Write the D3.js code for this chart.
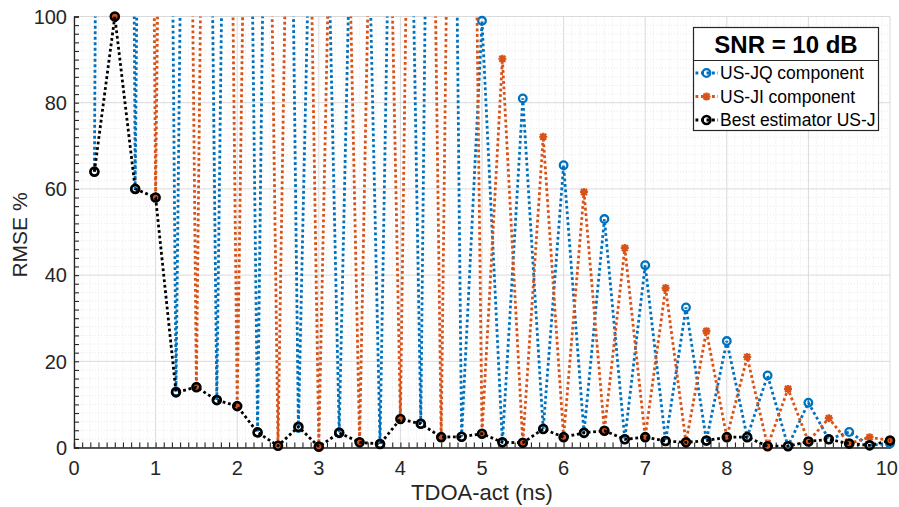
<!DOCTYPE html>
<html>
<head>
<meta charset="utf-8">
<script src="https://cdn.jsdelivr.net/npm/d3@7"></script>
<style>
  body { margin: 0; background: #fff; }
  svg { font-family: Arial, "Liberation Sans", Helvetica, sans-serif; }
</style>
</head>
<body>
<div id="chart"></div>
<script>
// TDOA-act (ns)
var tdoa = [0.25, 0.5, 0.75, 1, 1.25, 1.5, 1.75, 2, 2.25, 2.5, 2.75, 3, 3.25, 3.5, 3.75, 4,
  4.25, 4.5, 4.75, 5, 5.25, 5.5, 5.75, 6, 6.25, 6.5, 6.75, 7, 7.25, 7.5, 7.75, 8,
  8.25, 8.5, 8.75, 9, 9.25, 9.5, 9.75, 10];

// RMSE % (values above 100 run off the top of the axes)
var usJQ = [64, 900, 60, 600, 13, 450, 11, 400, 3.5, 400, 4.5, 220, 3.5, 220, 0.8, 280,
  5.5, 460, 2.5, 99, 1.2, 81, 4.3, 65.5, 3.4, 53, 1.9, 42.3, 1.5, 32.5, 1.6, 24.7,
  2.4, 16.7, 0.3, 10.4, 1.9, 3.6, 0.5, 0.9];
var usJI = [1000, 100, 700, 58, 500, 14, 450, 9.5, 350, 0.5, 300, 0.2, 230, 1.2, 250, 6.5,
  360, 2.2, 400, 3.2, 90.2, 1.1, 72.1, 2.4, 59.3, 3.9, 46.3, 2.4, 37, 1.2, 27, 2.4,
  21, 0.3, 13.6, 1.4, 6.8, 0.9, 2.4, 1.6];
var bestUSJ = [64, 100, 60, 58, 12.8, 14, 11, 9.6, 3.5, 0.4, 4.8, 0.2, 3.4, 1.2, 0.8, 6.6,
  5.5, 2.4, 2.5, 3.2, 1.2, 1.1, 4.3, 2.4, 3.4, 3.9, 1.9, 2.4, 1.5, 1.2, 1.6, 2.4,
  2.4, 0.3, 0.3, 1.4, 1.9, 0.9, 0.5, 1.6];

var xTicks = [0, 1, 2, 3, 4, 5, 6, 7, 8, 9, 10];
var yTicks = [0, 20, 40, 60, 80, 100];
var legendTitle = "SNR = 10 dB";
var seriesNames = ["US-JQ component", "US-JI component", "Best estimator US-J"];
var seriesColors = ["#0072BD", "#D95319", "#000000"];

var W = 899, H = 507;
var pLeft = 74, pRight = 890, pTop = 16.5, pBottom = 447.5;
var axisColor = "#262626";

var x = d3.scaleLinear().domain([0, 10]).range([pLeft, pRight]);
var y = d3.scaleLinear().domain([0, 100]).range([pBottom, pTop]);

var svg = d3.select("#chart").append("svg")
  .attr("width", W)
  .attr("height", H);

svg.append("defs").append("clipPath")
  .attr("id", "plot-clip")
  .append("rect")
  .attr("x", pLeft)
  .attr("y", pTop)
  .attr("width", pRight - pLeft)
  .attr("height", pBottom - pTop);

// minor grid
var minorX = d3.range(0, 101).map(function(i) { return i / 10; }).filter(function(v) { return v % 1 !== 0; });
var minorY = d3.range(0, 51).map(function(i) { return i * 2; }).filter(function(v) { return v % 20 !== 0; });

var grid = svg.append("g");
grid.selectAll(".minor-x")
  .data(minorX)
  .enter().append("line")
  .attr("x1", function(d) { return x(d); })
  .attr("x2", function(d) { return x(d); })
  .attr("y1", pTop)
  .attr("y2", pBottom)
  .style("stroke", "#e3e3e3")
  .style("stroke-width", 0.8)
  .style("stroke-dasharray", "1,2");
grid.selectAll(".minor-y")
  .data(minorY)
  .enter().append("line")
  .attr("x1", pLeft)
  .attr("x2", pRight)
  .attr("y1", function(d) { return y(d); })
  .attr("y2", function(d) { return y(d); })
  .style("stroke", "#e3e3e3")
  .style("stroke-width", 0.8)
  .style("stroke-dasharray", "1,2");

// major grid
grid.selectAll(".major-x")
  .data(xTicks)
  .enter().append("line")
  .attr("x1", function(d) { return x(d); })
  .attr("x2", function(d) { return x(d); })
  .attr("y1", pTop)
  .attr("y2", pBottom)
  .style("stroke", "#dadada")
  .style("stroke-width", 1);
grid.selectAll(".major-y")
  .data(yTicks)
  .enter().append("line")
  .attr("x1", pLeft)
  .attr("x2", pRight)
  .attr("y1", function(d) { return y(d); })
  .attr("y2", function(d) { return y(d); })
  .style("stroke", "#dadada")
  .style("stroke-width", 1);

// axes
var xAxis = svg.append("g")
  .attr("transform", "translate(0," + pBottom + ")")
  .call(d3.axisBottom(x).tickValues(minorX.concat(xTicks)).tickSize(-5).tickFormat(""));
var yAxis = svg.append("g")
  .attr("transform", "translate(" + pLeft + ",0)")
  .call(d3.axisLeft(y).tickValues(minorY.concat(yTicks)).tickSize(-5).tickFormat(""));
[xAxis, yAxis].forEach(function(a) {
  a.select(".domain").style("stroke", axisColor).style("stroke-width", 1.3);
  a.selectAll(".tick line").style("stroke", axisColor).style("stroke-width", 1.1);
});

// the last label would run past the window edge, so it is right-aligned there
svg.append("g").selectAll("text")
  .data(xTicks)
  .enter().append("text")
  .attr("x", function(d) { return d === 10 ? W - 1 : x(d); })
  .attr("y", pBottom + 27)
  .attr("text-anchor", function(d) { return d === 10 ? "end" : "middle"; })
  .style("font-size", "20px")
  .style("fill", axisColor)
  .text(function(d) { return d; });

svg.append("g").selectAll("text")
  .data(yTicks)
  .enter().append("text")
  .attr("x", pLeft - 7)
  .attr("y", function(d) { return y(d); })
  .attr("dy", "0.36em")
  .attr("text-anchor", "end")
  .style("font-size", "20px")
  .style("fill", axisColor)
  .text(function(d) { return d; });

svg.append("text")
  .attr("x", (pLeft + pRight) / 2)
  .attr("y", 500)
  .attr("text-anchor", "middle")
  .style("font-size", "22px")
  .style("fill", axisColor)
  .text("TDOA-act (ns)");

svg.append("text")
  .attr("transform", "translate(27," + ((pTop + pBottom) / 2 + 3) + ") rotate(-90)")
  .attr("text-anchor", "middle")
  .style("font-size", "21px")
  .style("fill", axisColor)
  .text("RMSE %");

// series
var line = d3.line()
  .x(function(d) { return x(d[0]); })
  .y(function(d) { return y(d[1]); });

function drawMarker(g, kind, color) {
  if (kind === "star") {
    g.append("path")
      .attr("d", "M-4,0H4M0,-4V4M-3,-3L3,3M-3,3L3,-3")
      .style("stroke", color)
      .style("stroke-width", 2.2)
      .style("fill", "none");
  } else {
    g.append("circle")
      .attr("r", kind === "big" ? 4 : 3.8)
      .style("stroke", color)
      .style("stroke-width", kind === "big" ? 2.6 : 2.3)
      .style("fill", "none");
  }
}

var allSeries = [usJQ, usJI, bestUSJ];
var markerKinds = ["circle", "star", "big"];

allSeries.forEach(function(vals, i) {
  var pts = tdoa.map(function(t, j) { return [t, vals[j]]; });
  svg.append("path")
    .datum(pts)
    .attr("clip-path", "url(#plot-clip)")
    .attr("d", line)
    .style("fill", "none")
    .style("stroke", seriesColors[i])
    .style("stroke-width", 2.8)
    .style("stroke-dasharray", "2.8,2.7");

  svg.append("g").selectAll("g")
    .data(pts.filter(function(p) { return p[1] <= 100; }))
    .enter().append("g")
    .attr("transform", function(d) { return "translate(" + x(d[0]) + "," + y(d[1]) + ")"; })
    .each(function() { drawMarker(d3.select(this), markerKinds[i], seriesColors[i]); });
});

// legend
var lg = svg.append("g");
lg.append("rect")
  .attr("x", 693.5)
  .attr("y", 27.5)
  .attr("width", 185)
  .attr("height", 103)
  .style("fill", "#fff")
  .style("stroke", axisColor)
  .style("stroke-width", 1.2);
lg.append("line")
  .attr("x1", 693.5)
  .attr("x2", 878.5)
  .attr("y1", 60.5)
  .attr("y2", 60.5)
  .style("stroke", axisColor)
  .style("stroke-width", 1);
lg.append("text")
  .attr("x", 786)
  .attr("y", 53)
  .attr("text-anchor", "middle")
  .style("font-size", "24px")
  .style("font-weight", "bold")
  .style("fill", "#000")
  .text(legendTitle);

seriesNames.forEach(function(name, i) {
  var cy = 73 + i * 23.5;
  lg.append("line")
    .attr("x1", 695.5)
    .attr("x2", 718)
    .attr("y1", cy)
    .attr("y2", cy)
    .style("stroke", seriesColors[i])
    .style("stroke-width", 2.8)
    .style("stroke-dasharray", "2.8,2.7");
  var m = lg.append("g").attr("transform", "translate(706.5," + cy + ")");
  drawMarker(m, markerKinds[i], seriesColors[i]);
  lg.append("text")
    .attr("x", 720)
    .attr("y", cy + 6)
    .style("font-size", "17.5px")
    .style("fill", "#000")
    .text(name);
});
</script>
</body>
</html>
